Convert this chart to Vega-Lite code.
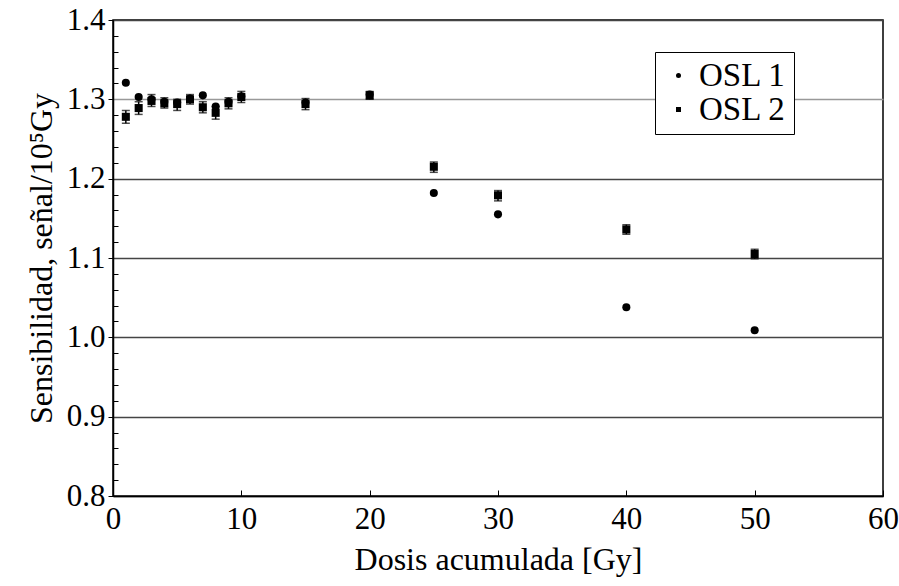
{
  "$schema": "https://vega.github.io/schema/vega-lite/v6.json",
  "width": 770,
  "height": 476,
  "autosize": {"type": "none"},
  "padding": {"left": 113, "top": 20, "right": 16, "bottom": 90},
  "background": "white",
  "config": {
    "view": {"stroke": "#000", "strokeWidth": 1.5},
    "font": "Liberation Serif"
  },
  "data": {
    "values": [
      {"dose": 1, "serie": "OSL 1", "s": 1.321, "lo": null, "hi": null},
      {"dose": 2, "serie": "OSL 1", "s": 1.303, "lo": null, "hi": null},
      {"dose": 3, "serie": "OSL 1", "s": 1.300, "lo": null, "hi": null},
      {"dose": 4, "serie": "OSL 1", "s": 1.297, "lo": null, "hi": null},
      {"dose": 5, "serie": "OSL 1", "s": 1.296, "lo": null, "hi": null},
      {"dose": 6, "serie": "OSL 1", "s": 1.301, "lo": null, "hi": null},
      {"dose": 7, "serie": "OSL 1", "s": 1.305, "lo": null, "hi": null},
      {"dose": 8, "serie": "OSL 1", "s": 1.291, "lo": null, "hi": null},
      {"dose": 9, "serie": "OSL 1", "s": 1.297, "lo": null, "hi": null},
      {"dose": 10, "serie": "OSL 1", "s": 1.304, "lo": null, "hi": null},
      {"dose": 15, "serie": "OSL 1", "s": 1.296, "lo": null, "hi": null},
      {"dose": 20, "serie": "OSL 1", "s": 1.306, "lo": null, "hi": null},
      {"dose": 25, "serie": "OSL 1", "s": 1.182, "lo": null, "hi": null},
      {"dose": 30, "serie": "OSL 1", "s": 1.155, "lo": null, "hi": null},
      {"dose": 40, "serie": "OSL 1", "s": 1.038, "lo": null, "hi": null},
      {"dose": 50, "serie": "OSL 1", "s": 1.009, "lo": null, "hi": null},
      {"dose": 1, "serie": "OSL 2", "s": 1.278, "lo": 1.270, "hi": 1.286},
      {"dose": 2, "serie": "OSL 2", "s": 1.289, "lo": 1.281, "hi": 1.297},
      {"dose": 3, "serie": "OSL 2", "s": 1.298, "lo": 1.291, "hi": 1.306},
      {"dose": 4, "serie": "OSL 2", "s": 1.295, "lo": 1.289, "hi": 1.302},
      {"dose": 5, "serie": "OSL 2", "s": 1.294, "lo": 1.286, "hi": 1.300},
      {"dose": 6, "serie": "OSL 2", "s": 1.300, "lo": 1.294, "hi": 1.306},
      {"dose": 7, "serie": "OSL 2", "s": 1.290, "lo": 1.283, "hi": 1.297},
      {"dose": 8, "serie": "OSL 2", "s": 1.283, "lo": 1.275, "hi": 1.291},
      {"dose": 9, "serie": "OSL 2", "s": 1.295, "lo": 1.288, "hi": 1.302},
      {"dose": 10, "serie": "OSL 2", "s": 1.303, "lo": 1.296, "hi": 1.310},
      {"dose": 15, "serie": "OSL 2", "s": 1.294, "lo": 1.287, "hi": 1.301},
      {"dose": 20, "serie": "OSL 2", "s": 1.305, "lo": 1.300, "hi": 1.310},
      {"dose": 25, "serie": "OSL 2", "s": 1.215, "lo": 1.208, "hi": 1.221},
      {"dose": 30, "serie": "OSL 2", "s": 1.179, "lo": 1.172, "hi": 1.185},
      {"dose": 40, "serie": "OSL 2", "s": 1.136, "lo": 1.130, "hi": 1.142},
      {"dose": 50, "serie": "OSL 2", "s": 1.105, "lo": 1.099, "hi": 1.111}
    ]
  },
  "resolve": {"axis": {"y": "independent", "x": "independent"}},
  "layer": [
    {
      "transform": [{"filter": "datum.lo != null"}],
      "mark": {"type": "rule", "color": "#000", "strokeWidth": 1.5},
      "encoding": {
        "x": {
          "field": "dose", "type": "quantitative",
          "scale": {"domain": [0, 60], "nice": false},
          "axis": {
            "orient": "bottom", "values": [0, 10, 20, 30, 40, 50, 60],
            "labels": false, "grid": false, "domain": false, "title": null,
            "tickSize": -6, "tickColor": "#000", "tickWidth": 1
          }
        },
        "y": {
          "field": "lo", "type": "quantitative",
          "scale": {"domain": [0.8, 1.4], "nice": false, "zero": false},
          "axis": {
            "orient": "left",
            "values": [0.82, 0.84, 0.86, 0.88, 0.92, 0.94, 0.96, 0.98, 1.02, 1.04, 1.06, 1.08, 1.12, 1.14, 1.16, 1.18, 1.22, 1.24, 1.26, 1.28, 1.32, 1.34, 1.36, 1.38],
            "labels": false, "grid": false, "domain": false, "title": null,
            "tickSize": -5, "tickColor": "#000", "tickWidth": 1
          }
        },
        "y2": {"field": "hi"}
      }
    },
    {
      "transform": [{"filter": "datum.lo != null"}],
      "mark": {"type": "tick", "orient": "horizontal", "color": "#000", "size": 8, "thickness": 1.5},
      "encoding": {
        "x": {"field": "dose", "type": "quantitative", "axis": null},
        "y": {"field": "lo", "type": "quantitative", "axis": null}
      }
    },
    {
      "transform": [{"filter": "datum.lo != null"}],
      "mark": {"type": "tick", "orient": "horizontal", "color": "#000", "size": 8, "thickness": 1.5},
      "encoding": {
        "x": {"field": "dose", "type": "quantitative", "axis": null},
        "y": {"field": "hi", "type": "quantitative", "axis": null}
      }
    },
    {
      "mark": {"type": "point", "filled": true, "color": "#000", "opacity": 1, "size": 65},
      "encoding": {
        "x": {
          "field": "dose", "type": "quantitative",
          "axis": {
            "orient": "bottom", "values": [0, 10, 20, 30, 40, 50, 60],
            "title": "Dosis acumulada [Gy]",
            "titleFont": "Liberation Serif", "titleFontSize": 32, "titleFontWeight": "normal", "titleColor": "#000",
            "titlePadding": 10,
            "labelFont": "Liberation Serif", "labelFontSize": 31, "labelColor": "#000",
            "labelPadding": 8, "labelFlush": false, "labelOverlap": false, "ticks": false, "grid": false,
            "domainColor": "#000", "domainWidth": 1.5
          }
        },
        "y": {
          "field": "s", "type": "quantitative",
          "axis": {
            "orient": "left", "values": [0.8, 0.9, 1.0, 1.1, 1.2, 1.3, 1.4],
            "format": ".1f",
            "title": "Sensibilidad, señal/10⁵Gy",
            "titleFont": "Liberation Serif", "titleFontSize": 32, "titleFontWeight": "normal", "titleColor": "#000",
            "titlePadding": 8,
            "labelFont": "Liberation Serif", "labelFontSize": 31, "labelColor": "#000",
            "labelPadding": 3, "labelFlush": false, "labelOverlap": false,
            "tickSize": 5, "tickColor": "#000", "tickWidth": 1,
            "grid": true,
            "gridColor": {"condition": {"test": "datum.value === 1.3", "value": "#999"}, "value": "#444"},
            "gridWidth": 1.5, "gridOpacity": 1,
            "domainColor": "#000", "domainWidth": 1.5
          }
        },
        "shape": {
          "field": "serie", "type": "nominal",
          "scale": {"domain": ["OSL 1", "OSL 2"], "range": ["circle", "square"]},
          "legend": {
            "title": null, "orient": "none", "legendX": 542, "legendY": 32,
            "strokeColor": "#000", "fillColor": "#fff", "padding": 7,
            "labelFont": "Liberation Serif", "labelFontSize": 33, "labelColor": "#000",
            "symbolSize": 25, "symbolFillColor": "#000", "symbolStrokeColor": "#000",
            "rowPadding": 0, "labelOffset": 4, "symbolOffset": 0
          }
        }
      }
    }
  ]
}
